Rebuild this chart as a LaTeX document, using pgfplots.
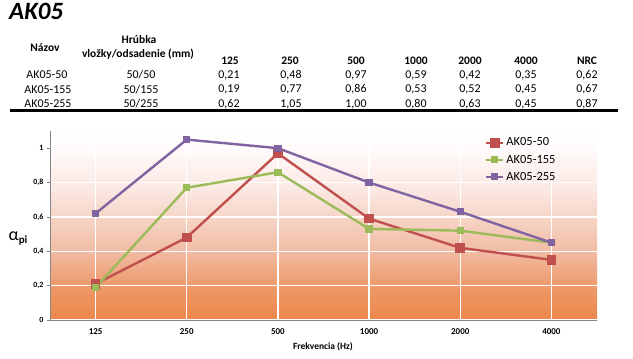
\documentclass[border=0pt]{standalone}
\usepackage{fontspec}
\setmainfont{Carlito}
\usepackage{pgfplots}
\pgfplotsset{compat=1.18}
\definecolor{cRed}{RGB}{192,80,77}
\definecolor{cGreen}{RGB}{155,187,89}
\definecolor{cPurple}{RGB}{128,100,162}
\definecolor{cOrange}{RGB}{236,135,75}
\definecolor{cAxis}{RGB}{134,134,134}
\definecolor{bgA}{RGB}{237,150,100}
\definecolor{bgB}{RGB}{241,188,165}
\definecolor{bgC}{RGB}{246,212,198}
\definecolor{bgD}{RGB}{250,232,226}
\definecolor{bgE}{RGB}{255,250,250}
\pgfdeclareverticalshading{bgshade}{100bp}{color(0bp)=(cOrange); color(25bp)=(cOrange); color(33bp)=(bgA); color(43.5bp)=(bgB); color(52bp)=(bgC); color(59.5bp)=(bgD); color(70bp)=(bgE); color(75bp)=(white); color(100bp)=(white)}
\begin{document}
\begin{tikzpicture}
\useasboundingbox (0bp,0bp) rectangle (633bp,-359bp);
\begin{scope}[x=1bp,y=-1bp]
\node[font=\bfseries\itshape\fontsize{25}{28}\selectfont, anchor=west, inner sep=0pt] at (9,11.5) {AK05};
% table header
\begin{scope}[every node/.style={font=\bfseries\fontsize{11.5}{13}\selectfont, inner sep=0pt, anchor=center}]
\node at (45,48) {Názov};
\node at (139,40) {Hrúbka};
\node at (138,54) {vložky/odsadenie (mm)};
\node at (230,61) {125};
\node at (290,61) {250};
\node at (356,61) {500};
\node at (416,61) {1000};
\node at (470,61) {2000};
\node at (526,61) {4000};
\node at (587,61) {NRC};
\end{scope}
\begin{scope}[every node/.style={font=\fontsize{12}{14}\selectfont, inner sep=0pt, anchor=center}]
\node at (47,75) {AK05-50};   \node at (141,75) {50/50};
\node at (229,75) {0,21}; \node at (291,75) {0,48}; \node at (356,75) {0,97}; \node at (416,75) {0,59}; \node at (470,75) {0,42}; \node at (526,75) {0,35}; \node at (587,75) {0,62};
\node at (48,89.5) {AK05-155};  \node at (141,89.5) {50/155};
\node at (229,89.5) {0,19}; \node at (291,89.5) {0,77}; \node at (356,89.5) {0,86}; \node at (416,89.5) {0,53}; \node at (470,89.5) {0,52}; \node at (526,89.5) {0,45}; \node at (587,89.5) {0,67};
\node at (48,104) {AK05-255};  \node at (141,104) {50/255};
\node at (229,104) {0,62}; \node at (291,104) {1,05}; \node at (356,104) {1,00}; \node at (416,104) {0,80}; \node at (470,104) {0,63}; \node at (526,104) {0,45}; \node at (587,104) {0,87};
\end{scope}
\draw[line width=2.2bp] (10,110.5) -- (618,110.5);
\end{scope}
\begin{axis}[
  at={(50bp,-320bp)}, anchor=south west,
  scale only axis, width=547bp, height=189bp,
  xmin=-0.5, xmax=5.5, ymin=0, ymax=1.1,
  axis x line=bottom, axis y line=left,
  axis line style={-, draw=cAxis, line width=0.8bp},
  axis background/.style={shading=bgshade},
  xtick={0,1,2,3,4,5},
  xticklabels={125,250,500,1000,2000,4000},
  minor xtick={-0.5,0.5,1.5,2.5,3.5,4.5,5.5},
  major tick length=3bp,
  minor tick length=4bp,
  ytick={0,0.2,0.4,0.6,0.8,1},
  yticklabels={0,{0,2},{0,4},{0,6},{0,8},1},
  ytick style={draw=cAxis, line width=0.8bp},
  minor tick style={draw=cAxis, line width=0.8bp},
  xtick style={draw=none},
  tick align=outside,
  xmajorgrids, ymajorgrids,
  major grid style={white, line width=1.2bp},
  /pgf/number format/assume math mode=true,
  xticklabel style={font=\bfseries\fontsize{9}{10}\selectfont, yshift=-2bp},
  yticklabel style={font=\bfseries\fontsize{8}{9}\selectfont},
  xlabel={Frekvencia (Hz)},
  xlabel style={font=\bfseries\fontsize{9.5}{11}\selectfont, at={(axis description cs:0.499,0)}, anchor=center, yshift=-27bp},
  ylabel={\fontsize{18}{19}\selectfont α\raisebox{-0.35ex}{\bfseries\fontsize{11}{12}\selectfont pi}},
  ylabel style={rotate=-90, at={(axis description cs:0,0.43)}, anchor=center, xshift=-32bp},
  legend style={draw=none, fill=none, at={(axis description cs:0.795,0.975)}, anchor=north west,
    font=\fontsize{12.5}{13}\selectfont, row sep=3.5bp, inner sep=0pt},
  legend cell align=left,
  clip=false,
]
\addplot[color=cRed, line width=2.4bp, mark=square*, mark size=3.6bp, mark options={solid, fill=cRed}]
  coordinates {(0,0.21) (1,0.48) (2,0.97) (3,0.59) (4,0.42) (5,0.35)};
\addlegendentry{AK05-50}
\addplot[color=cGreen, line width=2.4bp, mark=square*, mark size=2.4bp, mark options={solid, fill=cGreen}]
  coordinates {(0,0.19) (1,0.77) (2,0.86) (3,0.53) (4,0.52) (5,0.45)};
\addlegendentry{AK05-155}
\addplot[color=cPurple, line width=2.4bp, mark=square*, mark size=2.4bp, mark options={solid, fill=cPurple}]
  coordinates {(0,0.62) (1,1.05) (2,1.00) (3,0.80) (4,0.63) (5,0.45)};
\addlegendentry{AK05-255}
\end{axis}
\end{tikzpicture}
\end{document}
